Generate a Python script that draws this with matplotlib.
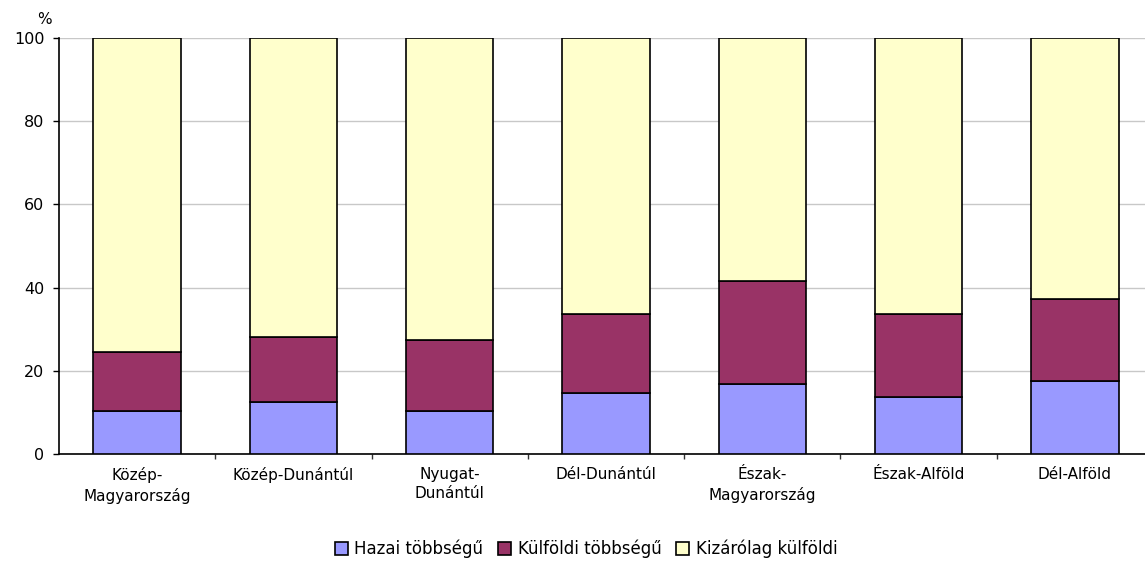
import numpy as np
import matplotlib
matplotlib.use("Agg")
import matplotlib.pyplot as plt

plt.rcParams['font.family'] = ['DejaVu Sans']

# Régiók és megoszlások (%)
regiok = ["Közép-\nMagyarország", "Közép-Dunántúl", "Nyugat-\nDunántúl",
          "Dél-Dunántúl", "Észak-\nMagyarország", "Észak-Alföld", "Dél-Alföld"]
hazai = [10.3, 12.6, 10.3, 14.6, 16.8, 13.8, 17.6]
kulfoldi = [14.3, 15.6, 17.1, 19.0, 24.9, 19.8, 19.7]
kizarolag = [75.4, 71.8, 72.6, 66.4, 58.3, 66.4, 62.7]

sorozat_nevek = ["Hazai többségű", "Külföldi többségű", "Kizárólag külföldi"]
szinek = ["#9999FF", "#993366", "#FFFFCC"]

fig = plt.figure(figsize=(11.45, 5.61), dpi=100)
ax = fig.add_axes([0.0515, 0.1907, 0.9555, 0.7416])

x = np.arange(len(regiok))
alap = np.zeros(len(regiok))
for ertekek, nev, szin in zip([hazai, kulfoldi, kizarolag], sorozat_nevek, szinek):
    ax.bar(x, ertekek, width=0.56, bottom=alap, color=szin, edgecolor="black",
           linewidth=1.2, label=nev, zorder=3)
    alap += np.array(ertekek)

ax.set_xlim(-0.5, len(regiok) - 0.5)
ax.set_ylim(0, 100)
ax.set_yticks([0, 20, 40, 60, 80, 100])
ax.yaxis.grid(True, color="#c8c8c8", linewidth=1, zorder=0)

ax.set_xticks(x)
ax.set_xticklabels(regiok, fontsize=11, linespacing=1.4)
ax.set_xticks(np.arange(0.5, len(regiok) - 0.5, 1), minor=True)
ax.tick_params(axis="x", which="major", length=0, pad=9)
ax.tick_params(axis="x", which="minor", length=3.5, width=1, color="#333333")
ax.tick_params(axis="y", length=4.5, width=1, labelsize=11.5, pad=6)

for s in ["top", "right"]:
    ax.spines[s].set_visible(False)
ax.spines["left"].set_linewidth(1.2)
ax.spines["bottom"].set_linewidth(1.2)

fig.text(0.039, 0.966, "%", fontsize=11, ha="center", va="center")

fig.legend(loc="lower center", bbox_to_anchor=(0.512, -0.022), ncol=3, frameon=False,
           fontsize=12, handlelength=0.75, handleheight=0.75, handletextpad=0.4,
           columnspacing=0.9)

fig.savefig("out.png", dpi=100)
